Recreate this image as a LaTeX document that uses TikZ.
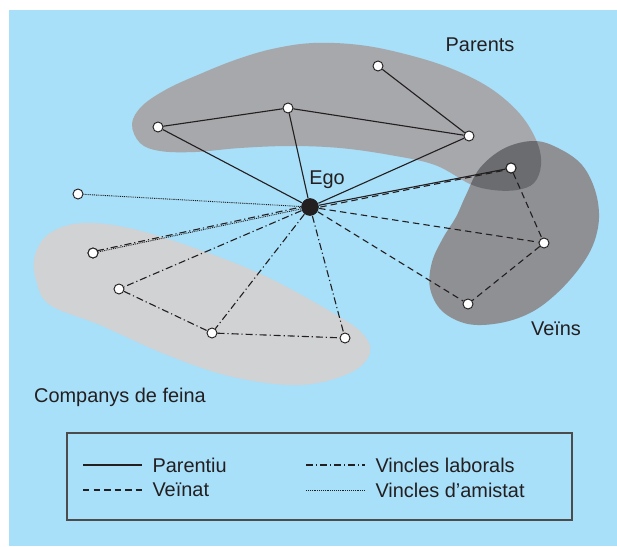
\documentclass[tikz,border=0pt]{standalone}
\usepackage{fontspec}
\setmainfont{Liberation Sans}
\usetikzlibrary{positioning}

\definecolor{sky}{HTML}{A8DFF9}
\definecolor{kingrey}{HTML}{A7A8AB}
\definecolor{neighgrey}{HTML}{8F9093}
\definecolor{overlapgrey}{HTML}{6B6C6F}
\definecolor{workgrey}{HTML}{D1D2D4}
\definecolor{ink}{HTML}{231F20}

\begin{document}
\begin{tikzpicture}[x=0.03cm, y=-0.03cm, line width=0.95pt, ink,
    person/.style={circle, draw=ink, fill=white, line width=0.8pt, inner sep=0pt, minimum size=0.3cm},
    ego/.style={circle, fill=ink, inner sep=0pt, minimum size=0.52cm},
    lbl/.style={text=ink, font=\fontsize{17}{20}\selectfont, inner sep=0pt},
    kin/.style={draw=ink, solid},
    neigh/.style={draw=ink, dash pattern=on 5.5pt off 3.5pt},
    work/.style={draw=ink, dash pattern=on 6pt off 2.5pt on 1pt off 2.5pt},
    friend/.style={draw=ink, line width=0.8pt, dash pattern=on 0.8pt off 0.8pt}]
    % Background
    \useasboundingbox (0,0) rectangle (617,546);
    \fill[white] (0,0) rectangle (617,546);
    \fill[sky] (9,10) rectangle (617,546);

    % Groups
    \fill[workgrey] plot[smooth cycle, tension=0.6] coordinates {
        (35,255) (50,233) (83,223) (133,229) (200,250) (267,277) (333,313)
        (362,333) (370,353) (350,373) (300,385) (233,377) (167,355)
        (100,325) (50,305) (36,280)};
    \fill[kingrey] plot[smooth cycle, tension=0.6] coordinates {
        (132,124) (142,106) (167,89) (200,74) (235,60) (272,49) (313,43)
        (360,45) (405,54) (450,68) (490,88) (520,114) (537,142) (541,165)
        (534,183) (517,190) (493,190) (470,184) (435,165) (390,155)
        (340,148) (290,146) (240,148) (195,152) (160,151) (140,143)};
    \fill[neighgrey] plot[smooth cycle, tension=0.6] coordinates {
        (466,195) (480,168) (505,148) (535,141) (560,149) (582,165)
        (595,190) (599,218) (593,245) (578,270) (555,295) (530,313)
        (500,323) (468,324) (442,311) (430,288) (432,262) (443,238) (456,217)};
    \begin{scope}
        \clip plot[smooth cycle, tension=0.6] coordinates {
            (466,195) (480,168) (505,148) (535,141) (560,149) (582,165)
            (595,190) (599,218) (593,245) (578,270) (555,295) (530,313)
            (500,323) (468,324) (442,311) (430,288) (432,262) (443,238) (456,217)};
        \fill[overlapgrey] plot[smooth cycle, tension=0.6] coordinates {
            (132,124) (142,106) (167,89) (200,74) (235,60) (272,49) (313,43)
            (360,45) (405,54) (450,68) (490,88) (520,114) (537,142) (541,165)
            (534,183) (517,190) (493,190) (470,184) (435,165) (390,155)
            (340,148) (290,146) (240,148) (195,152) (160,151) (140,143)};
    \end{scope}

    % Nodes
    \node[ego] (ego) at (310,207) {};
    \node[person] (p1) at (158,127) {};
    \node[person] (p2) at (288,108) {};
    \node[person] (p3) at (469,136) {};
    \node[person] (p4) at (378,66) {};
    \node[person] (v1) at (511,168) {};
    \node[person] (v2) at (544,243) {};
    \node[person] (v3) at (468,304) {};
    \node[person] (c1) at (93,253) {};
    \node[person] (c2) at (119,289) {};
    \node[person] (c3) at (212,333) {};
    \node[person] (c4) at (345,338) {};
    \node[person] (f1) at (78,194) {};

    % Labels
    \node[lbl] at (480,45) {Parents};
    \node[lbl] at (327,180) {Ego};
    \node[lbl] at (556,329) {Veïns};
    \node[lbl] at (120,397) {Companys de feina};

    % Ties
    \path (ego) edge[kin] (p1)
                edge[kin] (p2)
                edge[kin] (p3)
                edge[kin] (v1)
          (p1)  edge[kin] (p2)
          (p2)  edge[kin] (p3)
          (p3)  edge[kin] (p4);
    \path ([yshift=-1.8pt]ego.center) edge[neigh] ([yshift=-0.8pt]v1.center)
          (ego) edge[neigh] (v2)
                edge[neigh] (v3)
          (v1)  edge[neigh] (v2)
          (v2)  edge[neigh] (v3);
    \path ([yshift=1.6pt]ego.center) edge[work] ([yshift=1.2pt]c1.center)
          (ego) edge[work] (c2)
                edge[work] (c3)
                edge[work] (c4)
          (c2)  edge[work] (c3)
          (c3)  edge[work] (c4);
    \path (ego) edge[friend] (f1)
                edge[friend] (c1);

    % redraw the ends over the offset lines
    \node[ego] at (ego) {};
    \node[person] at (v1) {};
    \node[person] at (c1) {};

    % Legend
    \draw[line width=1pt, draw=black!70] (67,433) rectangle (572,520);
    \coordinate (k0) at (83,465);  \coordinate (k1) at (142,465);
    \coordinate (n0) at (83,490);  \coordinate (n1) at (142,490);
    \coordinate (w0) at (306,465); \coordinate (w1) at (365,465);
    \coordinate (f0) at (306,490); \coordinate (f1e) at (365,490);
    \draw[kin] (k0) -- (k1);
    \draw[neigh] (n0) -- (n1);
    \draw[work] (w0) -- (w1);
    \draw[friend] (f0) -- (f1e);
    \node[lbl, right=3mm of k1] {Parentiu};
    \node[lbl, right=3mm of n1] {Veïnat};
    \node[lbl, right=3mm of w1] {Vincles laborals};
    \node[lbl, right=3mm of f1e] {Vincles d’amistat};
\end{tikzpicture}
\end{document}
